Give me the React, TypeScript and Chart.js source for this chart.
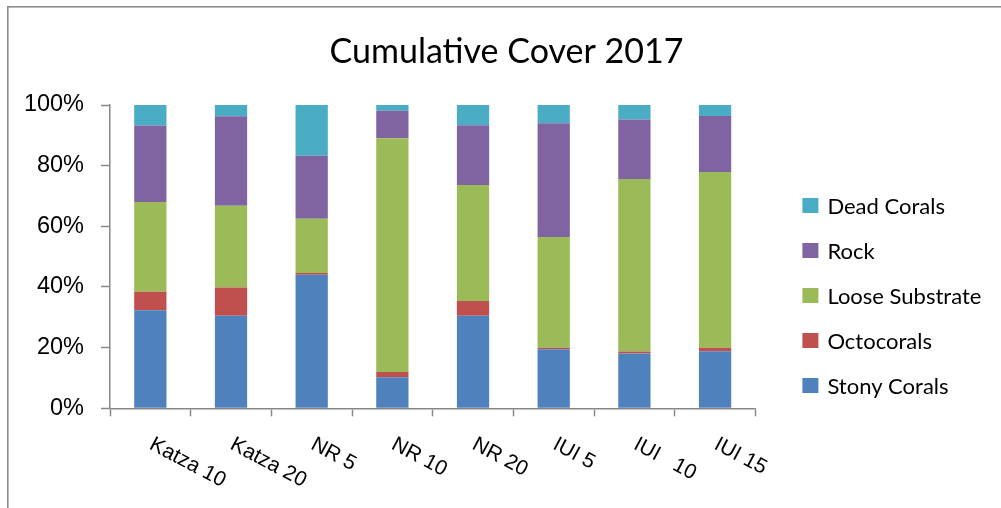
import { useEffect, useRef } from "react";
import { Chart, registerables } from "chart.js";

Chart.register(...registerables);

// Survey sites along the x axis
const sites = ["Katza 10", "Katza 20", "NR 5", "NR 10", "NR 20", "IUI 5", "IUI   10", "IUI 15"];

// Percentage cover per category at each site (bottom to top of each stack)
const stonyCorals = [32.3, 30.5, 44.0, 10.2, 30.5, 19.5, 18.1, 18.8];
const octocorals = [6.1, 9.3, 0.6, 1.8, 4.9, 0.5, 0.6, 1.2];
const looseSubstrate = [29.6, 27.0, 17.9, 77.0, 38.2, 36.5, 56.9, 57.9];
const rock = [25.2, 29.5, 20.8, 9.1, 19.7, 37.5, 19.6, 18.5];
const deadCorals = [6.8, 3.7, 16.7, 1.9, 6.7, 6.0, 4.8, 3.6];

const seriesNames = ["Stony Corals", "Octocorals", "Loose Substrate", "Rock", "Dead Corals"];
const seriesColors = ["#4F81BD", "#C0504D", "#9BBB59", "#8064A2", "#4BACC6"];

const yMin = 0;
const yMax = 100;
const yStep = 20;

const AXIS_GREY = "#888888";
const LABEL_FONT = '"Liberation Sans", Arial, sans-serif';
const TEXT_FONT = 'Lato, "Open Sans", sans-serif';

// Thin grey border around the whole chart object
const framePlugin = {
  id: "chartFrame",
  beforeDraw(chart: any) {
    const ctx = chart.ctx;
    ctx.save();
    ctx.strokeStyle = "#8c8c8c";
    ctx.lineWidth = 1.6;
    ctx.strokeRect(7.8, 6.8, chart.width + 40, chart.height + 40);
    ctx.restore();
  },
};

// Category labels slanted downward to the right, starting at each bar
const slantedLabelsPlugin = {
  id: "slantedLabels",
  afterDraw(chart: any) {
    const xs = chart.scales.x;
    const ctx = chart.ctx;
    ctx.save();
    ctx.font = `21px ${LABEL_FONT}`;
    ctx.fillStyle = "#000";
    ctx.textAlign = "left";
    ctx.textBaseline = "alphabetic";
    sites.forEach((label, i) => {
      const px = xs.getPixelForValue(i);
      ctx.save();
      ctx.translate(px - 2, xs.top + 40);
      ctx.rotate((28 * Math.PI) / 180);
      ctx.fillText(label, 0, 0);
      ctx.restore();
    });
    ctx.restore();
  },
};

// Legend on the right, top entry = top of the stack
const sideLegendPlugin = {
  id: "sideLegend",
  afterDraw(chart: any) {
    const ctx = chart.ctx;
    const area = chart.chartArea;
    const boxX = area.right + 47;
    const firstY = area.top + 100.5;
    const step = 45;
    ctx.save();
    ctx.font = `22px ${TEXT_FONT}`;
    ctx.textAlign = "left";
    ctx.textBaseline = "middle";
    const items = chart.data.datasets.slice().reverse();
    items.forEach((ds: any, i: number) => {
      const cy = firstY + i * step;
      ctx.fillStyle = ds.backgroundColor;
      ctx.fillRect(boxX, cy - 7.5, 16, 15);
      ctx.fillStyle = "#000";
      ctx.fillText(ds.label, boxX + 25, cy + 1);
    });
    ctx.restore();
  },
};

export default function App() {
  const canvasRef = useRef<HTMLCanvasElement | null>(null);

  useEffect(() => {
    if (!canvasRef.current) return;
    const values = [stonyCorals, octocorals, looseSubstrate, rock, deadCorals];
    const chart = new Chart(canvasRef.current, {
      type: "bar",
      data: {
        labels: sites,
        datasets: values.map((data, i) => ({
          label: seriesNames[i],
          data,
          backgroundColor: seriesColors[i],
          borderWidth: 0,
          categoryPercentage: 1.0,
          barPercentage: 0.4,
        })),
      },
      options: {
        responsive: false,
        devicePixelRatio: 1,
        animation: false,
        layout: { padding: { left: 12, right: 0, top: 0, bottom: 0 } },
        plugins: {
          legend: { display: false },
          tooltip: { enabled: false },
          title: {
            display: true,
            text: "Cumulative Cover 2017",
            color: "#000",
            font: { family: TEXT_FONT, size: 34, weight: "normal" },
            padding: { top: 31.8, bottom: 32.4 },
          },
        },
        scales: {
          x: {
            stacked: true,
            grid: {
              offset: true,
              drawOnChartArea: false,
              drawTicks: true,
              tickLength: 8,
              tickColor: AXIS_GREY,
              tickWidth: 1.5,
              color: AXIS_GREY,
            },
            border: { display: true, color: AXIS_GREY, width: 1.5 },
            ticks: { display: false },
            afterFit(scale: any) {
              scale.height = 99.7;
            },
          },
          y: {
            stacked: true,
            min: yMin,
            max: yMax,
            grid: {
              drawOnChartArea: false,
              drawTicks: true,
              tickLength: 9,
              tickColor: AXIS_GREY,
              tickWidth: 1.5,
              color: AXIS_GREY,
            },
            border: { display: true, color: AXIS_GREY, width: 1.5 },
            ticks: {
              stepSize: yStep,
              padding: 17,
              color: "#000",
              font: { family: LABEL_FONT, size: 23.5 },
              callback: (v: any) => `${v}%`,
            },
            afterFit(scale: any) {
              scale.width = 98;
            },
          },
          legendSpace: {
            type: "linear",
            position: "right",
            display: true,
            grid: { display: false },
            border: { display: false },
            ticks: { display: false },
            afterFit(scale: any) {
              scale.width = 245.6;
            },
          },
        },
      },
      plugins: [framePlugin, slantedLabelsPlugin, sideLegendPlugin],
    });
    return () => chart.destroy();
  }, []);

  return (
    <div style={{ position: "fixed", left: 0, top: 0, width: 1001, height: 508, background: "#fff" }}>
      <canvas ref={canvasRef} width={1001} height={508} />
    </div>
  );
}
